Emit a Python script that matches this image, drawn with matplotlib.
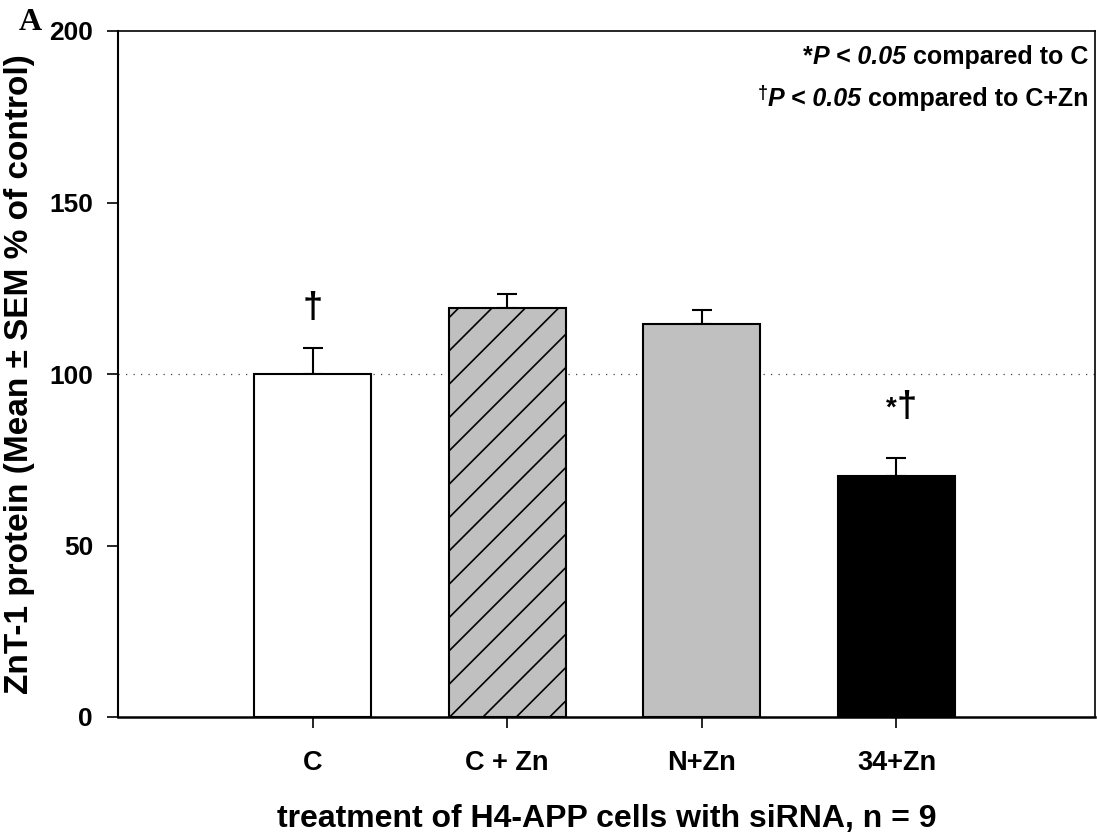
import matplotlib
matplotlib.use("Agg")
import matplotlib.pyplot as plt

categories = ["C", "C + Zn", "N+Zn", "34+Zn"]
means = [100.0, 119.3, 114.5, 70.2]
sems = [7.5, 4.0, 4.3, 5.3]
colors = ["white", "#c0c0c0", "#c0c0c0", "black"]
hatches = ["", "/", "", ""]
yticks = [0, 50, 100, 150, 200]

plt.rcParams['font.family'] = ['Liberation Sans', 'DejaVu Sans']
plt.rcParams['hatch.linewidth'] = 1.2

fig = plt.figure(figsize=(10.97, 8.33), dpi=100)
ax = fig.add_axes([118/1097, 1-717/833, (1095-118)/1097, (717-31)/833])

x = list(range(1, len(categories)+1))
for xi, m, s, c, h in zip(x, means, sems, colors, hatches):
    ax.bar(xi, m, width=0.6, color=c, edgecolor="black", linewidth=1.5, hatch=h, zorder=3)
    ax.errorbar(xi, m, yerr=[[0], [s]], fmt="none", ecolor="black", elinewidth=1.5,
                capsize=7, capthick=1.5, zorder=2)

ax.axhline(100, color="#444444", linestyle=(0, (1, 5)), linewidth=0.9, zorder=1)

ax.set_xlim(0, 5.02)
ax.set_ylim(0, 200)
ax.set_yticks(yticks)
ax.set_yticklabels([str(t) for t in yticks], fontsize=19, fontweight="bold")
ax.set_xticks(x)
ax.set_xticklabels(categories, fontsize=19.5, fontweight="bold")
ax.tick_params(axis="both", direction="out", length=8, width=1.2)
ax.tick_params(axis="y", pad=10)
ax.tick_params(axis="x", pad=16)
for sp in ax.spines.values():
    sp.set_linewidth(1.2)
ax.spines["left"].set_linewidth(1.5)
ax.spines["bottom"].set_linewidth(1.8)

# significance marks
ax.text(1, 114, "†", ha="center", va="bottom", fontsize=26, fontweight="bold")
ax.text(4, 86, "*", ha="right", va="bottom", fontsize=20, fontweight="bold")
ax.text(4, 85, "†", ha="left", va="bottom", fontsize=26, fontweight="bold")

ax.set_ylabel("ZnT-1 protein (Mean ± SEM % of control)", fontsize=24, fontweight="bold", labelpad=10)
ax.set_xlabel("treatment of H4-APP cells with siRNA, n = 9", fontsize=23, fontweight="bold", labelpad=20)

# p-value legend, built from pieces (bold / bold-italic)
def legend_line(y, pieces):
    prev = None
    for txt, style, size, dy in reversed(pieces):
        kw = dict(fontsize=size, fontweight="bold", fontstyle=style, ha="right", va="bottom")
        if prev is None:
            prev = ax.text(0.993, y, txt, transform=ax.transAxes, **kw)
        else:
            prev = ax.annotate(txt, xy=(0, 0), xycoords=prev, xytext=(0, dy),
                               textcoords="offset points", **kw)

legend_line(0.945, [("*", "normal", 18, 0), ("P < 0.05", "italic", 18, 0),
                    (" compared to C", "normal", 18, 0)])
legend_line(0.883, [("†", "normal", 13, 7), ("P < 0.05", "italic", 18, 0),
                    (" compared to C+Zn", "normal", 18, 0)])

fig.text(19/1097, 1-23/833, "A", fontsize=23, fontweight="bold", family="Liberation Serif",
         ha="left", va="center")

fig.savefig("out.png", dpi=100)
